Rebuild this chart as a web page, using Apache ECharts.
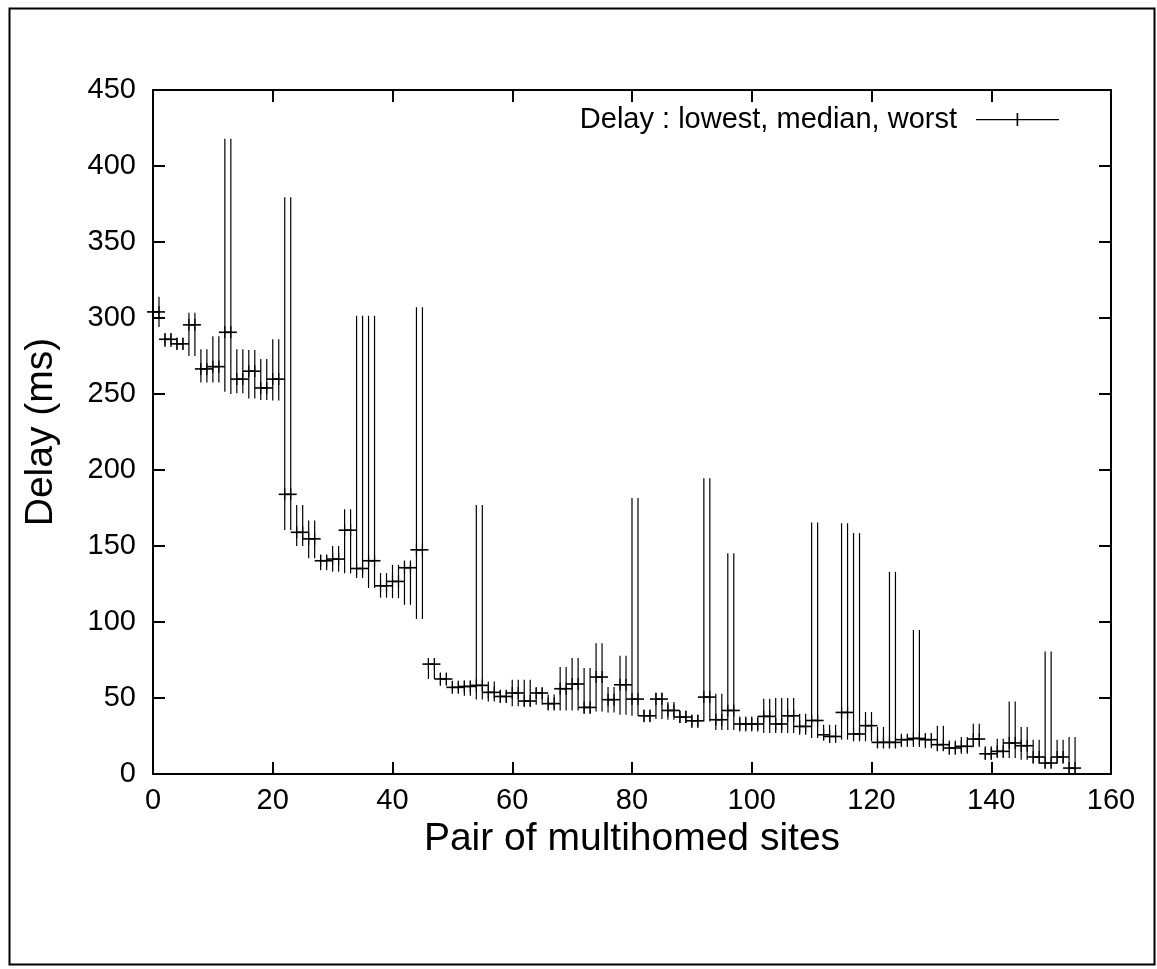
<!DOCTYPE html>
<html>
<head>
<meta charset="utf-8">
<title>Delay per pair of multihomed sites</title>
<script src="https://cdn.jsdelivr.net/npm/echarts@6/dist/echarts.min.js"></script>
<style>
  html, body { margin: 0; padding: 0; background: #fff; }
  #chart { width: 1157px; height: 969px; }
</style>
</head>
<body>
<div id="chart"></div>
<script>
// one entry per pair of multihomed sites (index 0..154), delay in ms
const lowest = [
  294, 294, 281, 281, 279, 279, 275, 275, 257.5, 257.5,
  257.5, 257.5, 251.5, 250, 250.5, 250.5, 247, 247, 246, 246,
  245.7, 245.7, 160.6, 160.6, 150, 150, 142, 142, 134, 134,
  133, 133, 132, 132, 129, 129, 122.3, 122.3, 116, 116,
  115.7, 115.7, 111.3, 111.3, 102, 102, 62.5, 62.5, 58, 58,
  52.8, 52.8, 51.5, 51.5, 49, 49, 47.7, 47.7, 46.7, 46.7,
  44.5, 44.5, 44.5, 44.5, 45.6, 45.6, 41.8, 41.8, 41.8, 41.8,
  41.8, 41.8, 39.7, 39.7, 41.2, 41.2, 40.5, 40.5, 39, 39,
  38.3, 38.3, 34, 34, 36.2, 36.2, 35.7, 35.7, 33.5, 33.5,
  30.2, 30.2, 34.6, 34.6, 29, 29, 29, 29, 28, 28,
  28, 28, 27, 27, 27, 27, 27, 27, 25.8, 25.8,
  23.7, 23.7, 22.6, 20.4, 20.4, 22.6, 22.6, 21.5, 21.5, 21.5,
  21.5, 17, 17, 17, 17, 17.8, 17.8, 17.8, 17.8, 17,
  17, 15, 15, 12.7, 12.7, 13.3, 13.3, 17.8, 17.8, 9.4,
  9.4, 10.5, 10.5, 10.5, 10.5, 9.4, 9.4, 6.8, 6.8, 3.9,
  3.9, 6.8, 6.8, 0, 0
]
const median = [
  304, 304, 286, 286, 283, 283, 295.5, 295.5, 266.5, 266.5,
  268, 268, 290.6, 290.6, 259.8, 259.8, 265, 265, 254, 254,
  259.8, 259.8, 184, 184, 159, 159, 154.7, 154.7, 140.3, 140.3,
  141.4, 141.4, 160.4, 160.4, 135.2, 135.2, 140.3, 140.3, 123.8, 123.8,
  126.7, 126.7, 135.7, 135.7, 147.5, 147.5, 72.3, 72.3, 62.5, 62.5,
  57, 57, 57.6, 57.6, 58.3, 58.3, 53.7, 53.7, 51, 51,
  53.3, 53.3, 48, 48, 53.3, 53.3, 46.3, 46.3, 56.1, 56.1,
  59.2, 59.2, 43.8, 43.8, 63.8, 63.8, 48.9, 48.9, 58.7, 58.7,
  49.3, 49.3, 38.3, 38.3, 49.3, 49.3, 41.8, 41.8, 37.5, 37.5,
  35, 35, 50.6, 50.6, 35.7, 35.7, 41.8, 41.8, 32.9, 32.9,
  32.9, 32.9, 37.9, 37.9, 32.9, 32.9, 38.3, 38.3, 31.3, 31.3,
  35.2, 35.2, 25.8, 24.7, 24.7, 40.5, 40.5, 26.3, 26.3, 31.8,
  31.8, 20.8, 20.8, 20.8, 20.8, 22.6, 22.6, 23.4, 23.4, 22.6,
  22.6, 19.3, 19.3, 17.1, 17.1, 18.2, 18.2, 23, 23, 13.3,
  13.3, 14.9, 14.9, 20.4, 20.4, 18.6, 18.6, 11.2, 11.2, 7.2,
  7.2, 11.2, 11.2, 3.9, 3.9
]
const worst = [
  314, 314, 290, 290, 287, 287, 303.5, 303.5, 279.5, 279.5,
  288, 288, 418, 418, 279.5, 279.5, 279, 279, 273, 273,
  286, 286, 379.4, 379.4, 177, 177, 166.8, 166.8, 144.2, 144.2,
  150, 150, 174.2, 174.2, 301.4, 301.4, 301.4, 301.4, 132.2, 132.2,
  137.6, 137.6, 140.5, 140.5, 307, 307, 76.3, 76.3, 66.8, 66.8,
  61.4, 61.4, 61.4, 61.4, 177, 177, 60.9, 60.9, 55.4, 55.4,
  62, 62, 62, 62, 56.5, 56.5, 52.3, 52.3, 70.4, 70.4,
  76.3, 76.3, 69.7, 69.7, 86, 86, 57.2, 57.2, 77.8, 77.8,
  181.5, 181.5, 42.3, 42.3, 53.7, 53.7, 47.3, 47.3, 41.8, 41.8,
  39, 39, 194.5, 194.5, 52.8, 52.8, 145.3, 145.3, 37.9, 37.9,
  37.9, 37.9, 49.5, 49.5, 50, 50, 50, 50, 39.7, 39.7,
  165.5, 165.5, 32.4, 32.4, 32.4, 165, 165, 158.5, 158.5, 40.8,
  40.8, 30.9, 30.9, 133, 133, 25.8, 25.8, 94.7, 94.7, 27,
  27, 31.8, 31.8, 22.1, 22.1, 24.3, 24.3, 33.1, 33.1, 18.2,
  18.2, 23.2, 23.2, 47.7, 47.7, 30.9, 30.9, 22.6, 22.6, 80.6,
  80.6, 22.6, 22.6, 24.3, 24.3
]
const xMax = 160
const xStep = 20
const yMax = 450
const yStep = 50

const font = "'Liberation Sans', Arial, Helvetica, sans-serif"
const seriesName = 'Delay : lowest, median, worst'

const points = lowest.map((lo, i) => [i, lo, median[i], worst[i]])

function renderDelay(params, api) {
  const x = api.value(0)
  const lo = api.coord([x, api.value(1)])
  const mid = api.coord([x, api.value(2)])
  const hi = api.coord([x, api.value(3)])
  const arm = 6
  return {
    type: 'group',
    children: [
      { type: 'line', shape: { x1: lo[0], y1: lo[1], x2: hi[0], y2: hi[1] },
        style: { stroke: '#000', lineWidth: 1.2 } },
      { type: 'line', shape: { x1: mid[0] - arm, y1: mid[1], x2: mid[0] + arm, y2: mid[1] },
        style: { stroke: '#000', lineWidth: 1.6 } },
      { type: 'line', shape: { x1: mid[0], y1: mid[1] - arm, x2: mid[0], y2: mid[1] + arm },
        style: { stroke: '#000', lineWidth: 1.2 } },
    ],
  }
}

// gnuplot style frame: line on all four sides, ticks pointing inwards
function frameAxis(extra) {
  return Object.assign({
    type: 'value',
    axisLine: { show: true, onZero: false, lineStyle: { color: '#000', width: 2 } },
    axisTick: { show: true, inside: true, length: 12, lineStyle: { color: '#000', width: 2 } },
    splitLine: { show: false },
  }, extra)
}

const chart = echarts.init(document.getElementById('chart'))
chart.setOption({
  animation: false,
  backgroundColor: '#fff',
  textStyle: { fontFamily: font },
  graphic: [
    {
      type: 'rect',
      left: 7,
      top: 6,
      shape: { width: 1145, height: 956 },
      style: { fill: 'none', stroke: '#000', lineWidth: 2 },
    },
  ],
  grid: { left: 153, right: 46, top: 90, bottom: 195 },
  legend: {
    right: 93,
    top: 100,
    align: 'right',
    itemWidth: 83,
    itemHeight: 13,
    textStyle: { fontSize: 29, color: '#000', fontFamily: font, padding: [0, 14, 0, 0] },
    data: [{ name: seriesName, icon: 'path://M0,6h83v1.2h-83z M40.6,0h1.6v13h-1.6z' }],
  },
  xAxis: [
    frameAxis({
      position: 'bottom',
      min: 0,
      max: xMax,
      interval: xStep,
      name: 'Pair of multihomed sites',
      nameLocation: 'middle',
      nameGap: 40,
      nameTextStyle: { fontSize: 39, color: '#000', fontFamily: font },
      axisLabel: { fontSize: 29, color: '#000', margin: 12, fontFamily: font },
    }),
    frameAxis({
      position: 'top',
      min: 0,
      max: xMax,
      interval: xStep,
      axisLabel: { show: false },
    }),
  ],
  yAxis: [
    frameAxis({
      position: 'left',
      min: 0,
      max: yMax,
      interval: yStep,
      name: 'Delay (ms)',
      nameLocation: 'middle',
      nameGap: 92,
      nameTextStyle: { fontSize: 39, color: '#000', fontFamily: font },
      axisLabel: { fontSize: 29, color: '#000', margin: 17, fontFamily: font },
    }),
    frameAxis({
      position: 'right',
      min: 0,
      max: yMax,
      interval: yStep,
      axisLabel: { show: false },
    }),
  ],
  series: [
    {
      name: seriesName,
      type: 'custom',
      xAxisIndex: 0,
      yAxisIndex: 0,
      itemStyle: { color: '#000' },
      renderItem: renderDelay,
      encode: { x: 0, y: [1, 2, 3] },
      data: points,
    },
  ],
})
</script>
</body>
</html>
